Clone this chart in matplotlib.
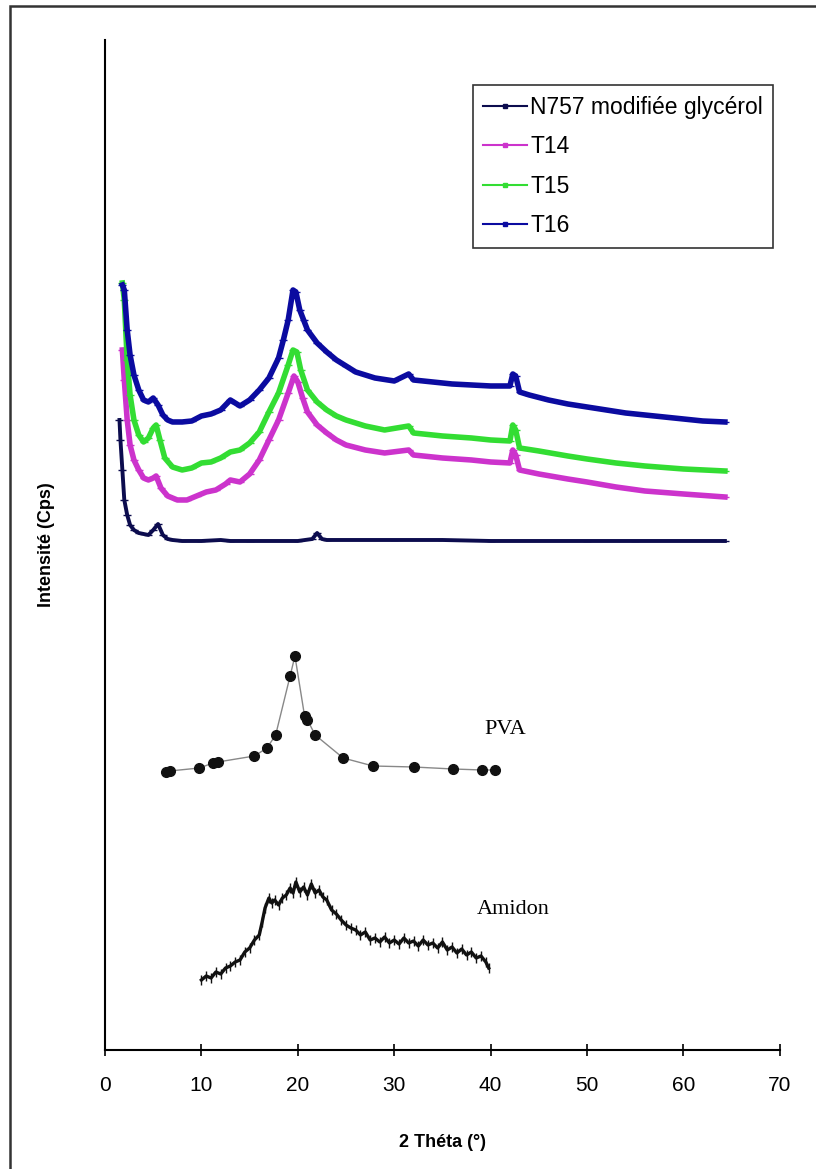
import matplotlib.pyplot as plt
from matplotlib.lines import Line2D
from matplotlib.patches import Rectangle

plt.rcParams['font.family'] = ['Liberation Sans', 'DejaVu Sans']

# 2 theta (deg) / intensite (unites arbitraires)
x_t16 = [1.8, 2.0, 2.3, 2.6, 3.0, 3.5, 4.0, 4.5, 5.0, 5.5, 6.0, 6.5, 7.0, 8.0, 9.0, 10.0,
         11.0, 12.0, 13.0, 13.5, 14.0, 15.0, 16.0, 17.0, 18.0, 18.5, 19.0, 19.5, 19.8, 20.2,
         20.6, 21.0, 22.0, 23.0, 24.0, 25.0, 26.0, 28.0, 30.0, 31.5, 32.0, 34.0, 36.0, 38.0,
         40.0, 42.0, 42.3, 42.6, 43.0, 44.0, 46.0, 48.0, 50.0, 52.0, 54.0, 56.0, 58.0, 60.0,
         62.0, 64.3]
y_t16 = [765, 760, 720, 695, 675, 660, 650, 648, 652, 645, 635, 630, 628, 628, 629, 634,
         636, 640, 650, 647, 644, 650, 660, 672, 692, 710, 730, 760, 758, 740,
         730, 720, 707, 698, 690, 684, 678, 672, 669, 676, 670, 668, 666, 665,
         664, 664, 676, 674, 658, 655, 650, 646, 643, 640, 637, 635, 633, 631,
         629, 628]

x_t15 = [1.8, 2.0, 2.3, 2.6, 3.0, 3.5, 4.0, 4.5, 5.0, 5.3, 5.7, 6.2, 7.0, 8.0, 9.0, 10.0,
         11.0, 12.0, 13.0, 14.0, 15.0, 16.0, 17.0, 18.0, 19.0, 19.5, 19.9, 20.3, 21.0, 22.0,
         23.0, 24.0, 25.0, 27.0, 29.0, 31.5, 32.0, 35.0, 38.0, 40.0, 42.0, 42.3, 42.6, 43.0,
         45.0, 48.0, 50.0, 53.0, 56.0, 60.0, 64.3]
y_t15 = [767, 750, 690, 655, 630, 615, 608, 612, 622, 625, 610, 592, 583, 580, 582, 587,
         588, 592, 598, 600, 607, 618, 638, 657, 685, 700, 698, 680, 660, 648,
         640, 634, 630, 624, 620, 624, 617, 614, 612, 610, 609, 625, 620, 602,
         599, 594, 591, 587, 584, 581, 579]

x_t14 = [1.8, 2.0, 2.3, 2.6, 3.0, 3.5, 4.0, 4.5, 5.0, 5.3, 5.8, 6.5, 7.5, 8.5, 9.5, 10.5,
         11.5, 12.5, 13.0, 14.0, 15.0, 16.0, 17.0, 18.0, 19.0, 19.6, 20.0, 20.5, 21.0, 22.0,
         23.0, 24.0, 25.0, 27.0, 29.0, 31.5, 32.0, 35.0, 38.0, 40.0, 42.0, 42.3, 42.6, 43.0,
         45.0, 48.0, 50.0, 53.0, 56.0, 60.0, 64.3]
y_t14 = [700, 670, 630, 605, 590, 580, 572, 570, 572, 574, 562, 554, 550, 550, 554, 558,
         560, 566, 570, 568, 576, 590, 610, 630, 657, 674, 668, 652, 638, 625,
         617, 610, 605, 600, 597, 600, 595, 592, 590, 588, 587, 600, 595, 580,
         576, 571, 568, 563, 559, 556, 553]

x_n757 = [1.5, 1.6, 1.8, 2.0, 2.3, 2.6, 3.0, 3.5, 4.0, 4.5, 5.0, 5.5, 6.0, 6.5, 7.0, 8.0,
          10.0, 12.0, 13.0, 15.0, 20.0, 21.5, 22.0, 22.5, 23.0, 30.0, 35.0, 40.0, 50.0,
          55.0, 64.3]
y_n757 = [630, 610, 580, 550, 535, 525, 520, 517, 516, 515, 520, 526, 515, 511, 510, 509,
          509, 510, 509, 509, 509, 511, 517, 511, 510, 510, 510, 509, 509,
          509, 509]

x_pva = [6.3, 6.7, 9.8, 11.2, 11.7, 15.5, 16.8, 17.7, 19.2, 19.7, 20.7, 21.0, 21.8, 24.7,
         27.8, 32.0, 36.1, 39.1, 40.5]
y_pva = [278, 279, 282, 287, 288, 294, 302, 315, 374, 394, 334, 330, 315, 292,
         284, 283, 281, 280, 280]

x_amidon = [10.0, 10.5, 11.0, 11.5, 12.0, 12.5, 13.0, 13.5, 14.0, 14.5, 15.0, 15.5, 16.0,
            16.3, 16.6, 17.0, 17.3, 17.6, 18.0, 18.4, 18.8, 19.2, 19.5, 19.8, 20.2, 20.6,
            21.0, 21.4, 21.8, 22.2, 22.6, 23.0, 23.5, 24.0, 24.5, 25.0, 25.5, 26.0, 26.5,
            27.0, 27.5, 28.0, 28.5, 29.0, 29.5, 30.0, 30.5, 31.0, 31.5, 32.0, 32.5, 33.0,
            33.5, 34.0, 34.5, 35.0, 35.5, 36.0, 36.5, 37.0, 37.5, 38.0, 38.5, 39.0, 39.5, 39.8]
y_amidon = [70, 74, 72, 78, 76, 82, 84, 88, 90, 98, 102, 110, 115,
            128, 142, 152, 147, 150, 145, 152, 155, 162, 157, 168, 158, 163,
            155, 166, 157, 160, 153, 150, 140, 136, 130, 125, 122, 120, 115,
            118, 110, 112, 108, 113, 107, 110, 106, 112, 107, 109, 104, 110,
            105, 107, 102, 108, 100, 103, 97, 101, 95, 98, 92, 94, 88, 82]

labels = ['N757 modifiée glycérol', 'T14', 'T15', 'T16']
colors = ['#0c0c4e', '#cc33cc', '#33dd33', '#0b0ba0']

fig = plt.figure(figsize=(8.16, 11.69), dpi=100)
ax = fig.add_axes([0.1287, 0.1018, 0.827, 0.864])

ax.plot(x_n757, y_n757, color=colors[0], lw=2.8, marker='_', ms=6)
ax.plot(x_t14, y_t14, color=colors[1], lw=4, marker='_', ms=6)
ax.plot(x_t15, y_t15, color=colors[2], lw=4, marker='_', ms=6)
ax.plot(x_t16, y_t16, color=colors[3], lw=4, marker='_', ms=6)

ax.plot(x_pva, y_pva, color='#888888', lw=1.0)
ax.plot(x_pva, y_pva, ls='none', marker='o', ms=7, color='#111111')
ax.plot(x_amidon, y_amidon, color='#111111', lw=2.4, marker='|', ms=7)

ax.text(39.4, 320, 'PVA', family='Liberation Serif', fontsize=16, va='center')
ax.text(38.6, 140, 'Amidon', family='Liberation Serif', fontsize=16, va='center')

handles = [Line2D([], [], color=c, lw=1.5, marker='s', ms=2.5) for c in colors]
leg = ax.legend(handles, labels, loc='upper left', bbox_to_anchor=(0.545, 0.955),
                fontsize=16.5, frameon=True, fancybox=False, edgecolor='black',
                handlelength=1.9, handletextpad=0.15, borderpad=0.45, borderaxespad=0,
                labelspacing=0.72)
leg.get_frame().set_linewidth(1.2)

ax.set_xlim(0, 70)
ax.set_ylim(0, 1010)
ax.set_xticks(range(0, 71, 10))
ax.set_yticks([])
ax.tick_params(axis='x', direction='inout', length=9, width=1.2, labelsize=15, pad=14)
for s in ['top', 'right']:
    ax.spines[s].set_visible(False)
ax.spines['left'].set_linewidth(1.5)
ax.spines['bottom'].set_linewidth(1.5)

ax.set_xlabel('2 Théta (°)', fontsize=13, fontweight='bold', labelpad=28)
ax.set_ylabel('Intensité (Cps)', fontsize=13, fontweight='bold', labelpad=36)

fig.patches.append(Rectangle((10 / 816, -0.01), 1.0, 1.01 - 6 / 1169, transform=fig.transFigure,
                             fill=False, edgecolor='#333333', lw=1.8))

fig.savefig('out.png', dpi=100)
